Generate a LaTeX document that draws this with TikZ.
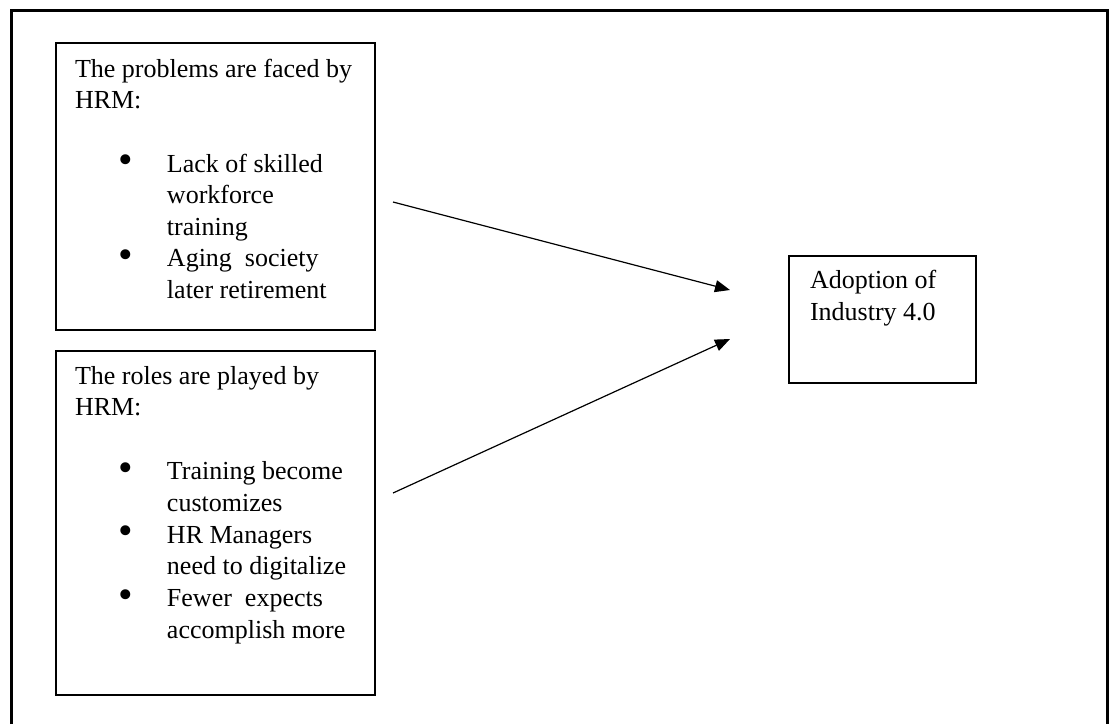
\documentclass[tikz,border=0pt]{standalone}
\usepackage{fontspec}
\usepackage{graphicx}
\setmainfont{Liberation Serif}
\usetikzlibrary{arrows.meta}
\newcommand{\bulletline}[1]{\makebox[46pt][l]{\hspace*{22pt}\raisebox{-0.9pt}{\scalebox{1.6}{\textbullet}}}#1}
\newcommand{\moreline}[1]{\hspace*{46pt}#1}
\tikzset{
	boxnode/.style={
			rectangle,
			draw=black,
			line width=0.8pt,
			inner sep=0pt,
			outer sep=0pt
		},
	textnode/.style={
			anchor=north west,
			align=left,
			inner sep=0pt,
			outer sep=0pt,
			font=\fontsize{13}{15.8}\selectfont
		},
	linkarrow/.style={
			line width=0.6pt,
			-{Triangle[length=7.5pt,width=6pt]}
		}
}

\begin{document}
\begin{tikzpicture}[x=0.5pt, y=-0.5pt]
\useasboundingbox (0,0) rectangle (1114,724);
\draw[line width=1.5pt] (11.5,724) |- (1107,10.5) -- (1107,724);

\node (n1) at (215.5,186.5) [boxnode, minimum width=159.5pt, minimum height=143.5pt] {};
\node (n2) at (215.5,523) [boxnode, minimum width=159.5pt, minimum height=172pt] {};
\node (n3) at (882.5,319.5) [boxnode, minimum width=93.5pt, minimum height=63.5pt] {};

\node (t1) at ([shift={(19,16)}]n1.north west) [textnode] {The problems are faced by\\ HRM:\\[15.8pt]
	\bulletline{Lack of skilled}\\ \moreline{workforce}\\ \moreline{training}\\
	\bulletline{Aging\ \ society}\\ \moreline{later retirement}};
\node (t2) at ([shift={(19,15)}]n2.north west) [textnode, font=\fontsize{13}{15.9}\selectfont] {The roles are played by\\ HRM:\\[15.9pt]
	\bulletline{Training become}\\ \moreline{customizes}\\
	\bulletline{HR Managers}\\ \moreline{need to digitalize}\\
	\bulletline{Fewer\ \ expects}\\ \moreline{accomplish more}};
\node (t3) at ([shift={(21,14)}]n3.north west) [textnode, font=\fontsize{13}{16}\selectfont] {Adoption of\\ Industry 4.0};

\coordinate (c1) at (393,202);
\coordinate (c2) at (730,290);
\coordinate (c3) at (393,493);
\coordinate (c4) at (730,339);

\draw[linkarrow] (c1) -- (c2);
\draw[linkarrow] (c3) -- (c4);

\end{tikzpicture}
\end{document}
